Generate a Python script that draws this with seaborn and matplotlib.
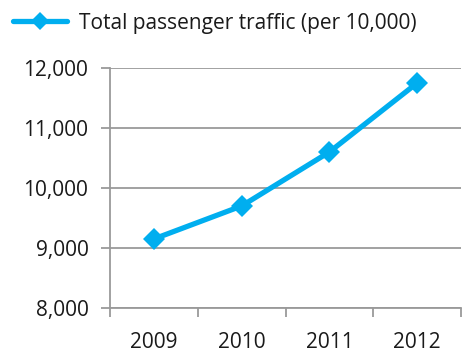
import numpy as np
import pandas as pd
import matplotlib
matplotlib.use("Agg")
import matplotlib.pyplot as plt
from matplotlib.ticker import FixedLocator
import seaborn as sns

years = ["2009", "2010", "2011", "2012"]
traffic = [9150, 9700, 10600, 11750]
series_name = "Total passenger traffic (per 10,000)"
y_ticks = [8000, 9000, 10000, 11000, 12000]

sns.set_theme(style="white")
plt.rcParams["font.family"] = ["Open Sans", "DejaVu Sans"]

df = pd.DataFrame({"pos": np.arange(len(years)), "value": traffic, "series": series_name})

fig = plt.figure(figsize=(4.62, 3.54), dpi=100)
ax = fig.add_axes([0.238, 0.130, 0.760, 0.678])

line_color = "#00AEEF"
grid_color = "#9a9a9a"

sns.lineplot(data=df, x="pos", y="value", hue="series", palette=[line_color],
             marker="D", markersize=11, linewidth=3.8, markeredgewidth=0,
             ax=ax, legend=False)

ax.set_xlim(-0.5, len(years) - 0.5)
ax.set_ylim(y_ticks[0], y_ticks[-1])
ax.set_yticks(y_ticks)
ax.set_yticklabels([f"{v:,}" for v in y_ticks])
ax.set_xticks(np.arange(len(years)))
ax.set_xticklabels(years)
ax.xaxis.set_minor_locator(FixedLocator(np.arange(len(years) + 1) - 0.5))

ax.yaxis.grid(True, color=grid_color, linewidth=1.3)
ax.set_axisbelow(True)
for side in ["top", "right"]:
    ax.spines[side].set_visible(False)
for side in ["left", "bottom"]:
    ax.spines[side].set_color(grid_color)
    ax.spines[side].set_linewidth(1.3)

ax.tick_params(axis="y", which="major", length=6.5, width=1.3, color=grid_color,
               labelsize=15, labelcolor="#1a1a1a", pad=9, left=True)
ax.tick_params(axis="x", which="major", length=0, labelsize=15,
               labelcolor="#1a1a1a", pad=17, bottom=True)
ax.tick_params(axis="x", which="minor", length=6.5, width=1.3, color=grid_color,
               bottom=True)
ax.set_xlabel("")
ax.set_ylabel("")

# legend drawn at the top left
handle = plt.Line2D([], [], color=line_color, linewidth=3.8, marker="D",
                    markersize=9, markeredgewidth=0)
fig.legend([handle], [series_name], loc="upper left", bbox_to_anchor=(0.0, 1.0),
           frameon=False, fontsize=15, handlelength=2.6, handletextpad=0.6,
           labelcolor="#1a1a1a", borderaxespad=0.2)

fig.savefig("out.png", dpi=100)
